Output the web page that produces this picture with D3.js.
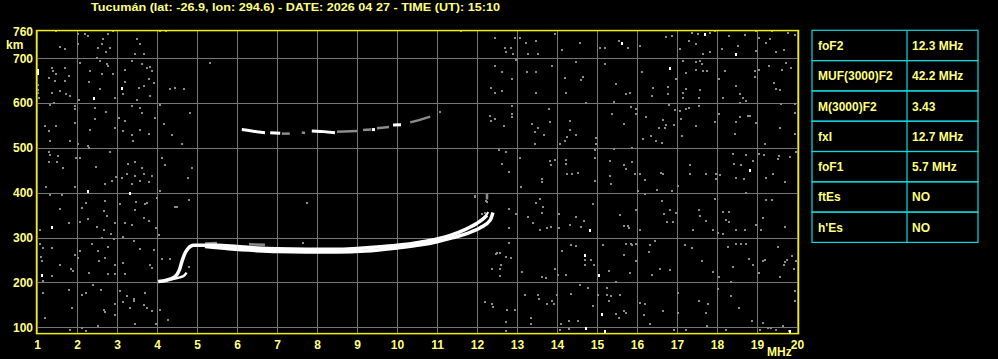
<!DOCTYPE html>
<html>
<head>
<meta charset="utf-8">
<script src="https://cdn.jsdelivr.net/npm/d3@7"></script>
<style>
  html, body { margin: 0; padding: 0; background: #000; }
  svg { display: block; }
  text { font-family: "Liberation Sans", Arial, sans-serif; font-weight: bold; fill: #ffff80; }
</style>
</head>
<body>
<div id="graphic"></div>
<script>
// ---- data ----
const titleText = "Tucumán (lat: -26.9, lon: 294.6) - DATE: 2026 04 27 - TIME (UT): 15:10";
const freqTicks = d3.range(1, 21);            // MHz
const heightTicks = [100, 200, 300, 400, 500, 600, 700];
const heightTop = 760;

const paramNames = ["foF2", "MUF(3000)F2", "M(3000)F2", "fxI", "foF1", "ftEs", "h'Es"];
const paramValues = ["12.3 MHz", "42.2 MHz", "3.43", "12.7 MHz", "5.7 MHz", "NO", "NO"];

// F-layer traces [MHz, km]
const oTrace = [[4.03,202],[4.24,205],[4.45,213],[4.56,228],[4.62,246],[4.70,265],[4.78,276],[4.91,283],[5.49,283],[6.0,280],[6.5,277],[7.0,275],[7.74,274],[8.5,274],[9.0,276],[9.5,279],[10.0,283],[10.58,290],[11.0,297],[11.33,305],[11.7,318],[12.0,332],[12.13,340],[12.25,350]];
const xTrace = [[5.2,280],[5.8,275],[6.5,271],[7.0,269],[7.74,268],[8.5,268],[9.2,270],[10.0,277],[10.6,284],[11.0,291],[11.4,300],[11.74,309],[12.08,322],[12.33,339],[12.4,356]];
const spurTrace = [[4.15,204],[4.45,209],[4.66,214],[4.74,222]];
const endStreak = [[12.2,345],[12.28,357]];
const dimTraces = [
  [[5.2,287],[5.5,288]], [[6.3,285],[6.7,284]], [[12.25,385],[12.25,398]]
];
// multi-hop echo (broken)
const hopBright = [
  [[6.12,541],[6.3,539],[6.5,536],[6.7,534]],
  [[6.83,534],[7.08,533]],
  [[7.87,538],[8.1,537],[8.45,534]],
  [[9.37,541],[9.45,541]],
  [[9.9,551],[10.1,552]]
];
const hopDim = [
  [[7.12,532],[7.32,532]],
  [[7.62,534],[7.7,534]],
  [[8.5,536],[9.0,538]],
  [[9.15,540],[9.35,541]],
  [[9.5,544],[9.8,547]],
  [[10.33,557],[10.55,562],[10.83,570]]
];

// scattered noise echoes [MHz, km]
const noiseGray = [
  [1.48,762],[2.03,754],[2.19,754],[2.28,750],[2.78,754],[2.89,762],[1.69,720],[1.58,725],[2.03,731],[2.53,722],[2.63,733],[2.64,742],[2.73,715],[2.83,722],[3.50,742],[3.58,731],[3.46,709],[3.67,709],[4.08,762],[4.23,762],
  [1.38,679],[1.39,672],[1.71,679],[1.48,666],[1.79,661],[1.29,657],[1.69,649],[1.44,649],[2.08,690],[2.33,672],[2.31,648],[2.57,694],[2.75,687],[2.78,683],[2.63,664],[2.89,664],[2.58,632],[2.50,701],[3.21,675],[3.19,648],[3.15,621],[3.38,694],[3.63,688],[3.75,679],[3.83,681],[3.88,672],[3.79,653],[3.92,646],[3.67,638],[3.54,633],[3.50,608],[3.83,616],[1.03,623],[1.06,612],[1.38,623],[1.58,627],[1.73,620],[1.83,616],[1.42,601],[4.33,631],[4.44,634],[4.67,631],[5.33,689],[2.04,608],[2.96,612],[1.03,630],[1.03,640],
  [1.33,596],[1.94,594],[1.94,586],[2.46,590],[2.73,581],[3.04,566],[3.19,560],[3.38,594],[3.58,590],[3.63,579],[3.94,566],[4.08,596],[4.17,553],[4.38,529],[4.63,509],[4.83,578],[1.19,549],[1.29,538],[1.48,549],[1.33,515],[1.83,515],[1.94,556],[2.33,541],[2.44,564],[2.94,545],[3.14,538],[3.38,530],[3.41,515],[3.58,541],[3.79,532],[2.03,509],[2.28,504],[1.0,509],
  [1.31,492],[1.33,484],[1.52,482],[1.50,469],[1.31,469],[1.64,456],[1.98,478],[2.08,478],[2.29,500],[2.48,457],[2.83,492],[2.98,435],[2.88,426],[2.69,419],[3.13,433],[3.28,465],[3.44,469],[3.25,441],[3.46,437],[3.63,456],[3.67,441],[3.88,437],[3.79,425],[3.58,427],[3.38,419],[4.13,478],[4.19,462],[4.78,432],[4.88,456],[1.23,413],[1.94,413],[4.08,404],
  [1.33,396],[1.58,363],[1.63,396],[2.23,378],[2.13,366],[2.69,381],[2.67,359],[2.75,348],[2.96,333],[3.08,374],[3.21,333],[3.48,380],[3.46,361],[3.71,375],[3.67,344],[3.79,338],[3.38,329],[4.00,389],[3.98,322],[4.04,305],[1.08,316],[1.79,333],[2.08,334],[2.28,342],[2.50,323],[2.67,318],[2.63,299],[2.86,307],[2.92,298],[3.15,301],[4.46,368],[4.79,383],[3.74,377],[4.49,369],
  [1.08,285],[1.14,277],[1.38,276],[1.11,256],[1.13,247],[1.38,214],[1.58,238],[1.86,231],[1.89,225],[1.94,262],[2.03,255],[2.08,270],[2.29,221],[2.38,285],[2.53,270],[2.54,247],[2.71,255],[2.78,279],[2.78,219],[2.94,219],[2.96,240],[3.14,244],[3.19,219],[3.42,293],[3.58,275],[3.82,238],[3.92,273],[3.88,232],[4.13,253],[4.33,253],[4.81,234],[1.14,204],
  [1.14,177],[1.19,121],[1.79,184],[1.88,143],[2.13,173],[2.23,177],[2.39,195],[2.61,184],[2.67,139],[2.69,134],[2.96,152],[3.08,180],[3.14,156],[3.25,169],[3.42,164],[3.42,159],[3.33,143],[3.46,107],[3.71,177],[3.67,150],[3.75,143],[3.88,137],[3.98,108],[4.08,139],[4.28,117],[1.83,95],[2.13,98],[2.23,91],[2.53,104],[2.96,128],
  [7.74,378],[7.65,287],[11.6,760],[11.08,580],[12.24,380],[12.49,266],
  [12.44,745],[12.69,724],[12.73,713],[12.86,722],[12.90,710],[12.94,746],[13.08,745],[13.23,735],[13.28,709],[13.48,739],[13.53,709],[13.94,754],[14.13,718],[14.58,735],[15.08,722],[15.19,722],[15.54,739],[15.78,722],[16.08,728],[16.73,748],[16.88,750],[17.08,720],[17.30,739],[17.47,731],[17.53,755],[17.83,757],[17.94,761],[18.13,720],[18.30,750],[18.53,728],[18.69,752],[18.97,761],[18.98,716],[19.04,745],[19.22,735],[19.33,742],[19.38,762],[19.48,713],[19.67,718],[19.78,757],[19.94,752],[17.38,757],[17.65,709],[17.82,713],[12.97,696],
  [12.44,683],[12.63,670],[12.88,653],[13.25,670],[13.48,670],[13.88,683],[14.19,655],[14.48,692],[14.61,651],[14.65,658],[15.19,687],[15.48,642],[15.83,623],[16.13,670],[16.38,616],[16.78,635],[16.78,620],[16.98,653],[17.15,694],[17.23,668],[17.48,692],[17.57,694],[17.63,687],[17.48,675],[17.65,672],[17.15,623],[17.23,631],[17.15,611],[17.57,629],[17.55,612],[17.75,672],[18.05,653],[18.15,612],[18.48,638],[18.58,620],[18.65,612],[18.94,672],[18.94,658],[19.05,675],[19.30,683],[19.42,646],[19.48,631],[19.58,629],[19.63,675],[19.73,690],[19.86,679],[12.36,634],[12.44,623],[12.63,627],[13.48,622],[14.23,622],[14.72,601],[15.42,603],[15.72,620],[16.40,634],[18.19,672],[18.57,601],[18.73,605],
  [12.32,571],[12.44,564],[12.36,560],[12.67,549],[12.88,594],[12.88,575],[12.88,568],[13.38,554],[13.44,536],[13.53,545],[13.82,559],[13.80,586],[13.67,530],[13.44,508],[14.08,508],[14.19,515],[14.33,560],[14.32,541],[14.48,530],[14.25,524],[14.98,523],[14.98,509],[15.38,576],[15.67,553],[15.86,591],[15.98,586],[15.97,575],[16.23,569],[16.36,527],[16.63,512],[16.55,545],[16.65,562],[16.69,545],[16.73,551],[16.80,596],[16.92,551],[16.94,584],[17.11,564],[17.08,582],[17.23,588],[17.30,590],[17.13,527],[17.47,549],[17.55,593],[17.94,558],[18.05,576],[18.44,532],[18.48,558],[18.58,568],[18.78,571],[18.83,571],[18.98,556],[19.19,509],[19.58,545],[19.61,597],[19.94,597],[19.94,532],[19.94,579],[16.48,515],[16.15,519],
  [12.55,495],[12.63,465],[12.73,492],[12.80,447],[13.08,478],[13.11,413],[13.63,430],[13.63,425],[13.82,472],[13.86,462],[13.94,474],[14.23,474],[14.23,465],[14.25,442],[14.38,441],[14.53,445],[14.94,495],[14.94,477],[14.94,427],[15.32,471],[15.32,437],[15.36,419],[15.42,497],[15.67,463],[15.73,452],[15.88,499],[15.88,469],[15.94,441],[16.03,404],[16.08,442],[16.19,429],[16.50,407],[16.61,445],[16.65,441],[16.88,405],[17.03,415],[17.33,463],[17.33,442],[17.72,441],[17.97,442],[17.98,430],[18.08,439],[18.40,486],[18.42,465],[18.48,432],[18.61,463],[18.72,484],[18.90,470],[19.05,487],[19.17,484],[19.23,433],[19.40,441],[19.53,475],[19.55,482],[19.69,424],[19.82,480],[19.97,492],[18.67,430],[11.94,393],
  [11.94,390],[12.23,381],[12.13,352],[12.19,355],[12.38,352],[12.80,363],[12.80,322],[12.97,352],[13.28,346],[13.40,333],[13.48,378],[13.58,387],[13.65,368],[13.63,355],[13.58,316],[13.75,322],[13.84,323],[14.05,353],[14.05,322],[14.32,328],[14.47,346],[14.61,323],[14.67,338],[14.90,374],[15.58,350],[15.67,326],[15.80,322],[15.78,327],[15.98,362],[16.08,316],[16.19,398],[16.63,381],[16.67,352],[16.75,335],[16.82,361],[16.90,335],[16.98,355],[17.40,316],[17.55,362],[17.57,348],[17.72,337],[17.90,316],[17.94,387],[18.03,311],[18.15,357],[18.15,307],[18.23,340],[18.30,357],[18.30,335],[18.48,316],[18.69,318],[18.73,400],[18.98,328],[19.11,316],[19.15,344],[19.23,385],[19.38,383],[19.69,323],
  [12.48,264],[12.57,266],[12.61,238],[12.58,229],[12.73,256],[12.80,288],[12.86,255],[12.38,231],[12.58,214],[13.13,223],[13.63,212],[13.73,210],[13.94,230],[14.03,216],[14.13,270],[14.23,217],[14.36,284],[14.48,281],[14.69,251],[14.69,240],[14.86,251],[14.92,238],[15.15,283],[15.30,225],[15.48,201],[15.67,262],[15.73,286],[15.86,286],[15.98,286],[15.88,283],[15.97,247],[15.83,221],[16.32,284],[16.44,293],[16.30,268],[16.38,216],[16.58,230],[16.83,228],[17.19,284],[17.38,277],[17.63,247],[17.90,223],[18.05,212],[18.28,279],[18.40,234],[18.48,286],[18.61,286],[18.73,286],[18.80,253],[18.90,240],[19.05,221],[19.15,247],[19.19,249],[19.53,279],[19.57,212],[19.67,240],[19.69,245],[19.75,249],[19.88,258],[19.92,229],[19.97,247],[18.36,201],
  [12.19,156],[12.38,152],[12.40,145],[12.72,112],[12.75,139],[12.72,92],[12.94,139],[13.19,173],[13.36,107],[13.53,173],[13.55,164],[13.75,151],[13.88,159],[13.92,151],[14.00,171],[14.11,107],[14.30,97],[14.36,174],[14.53,113],[14.58,194],[14.78,188],[14.90,147],[15.03,173],[15.25,188],[15.25,173],[15.30,158],[15.36,169],[15.48,130],[15.55,121],[15.58,173],[15.67,137],[15.73,132],[16.08,154],[16.17,128],[16.19,151],[16.32,107],[16.65,137],[16.92,95],[17.03,132],[17.03,176],[17.23,95],[17.55,158],[17.73,132],[17.78,151],[17.75,102],[18.03,186],[18.23,95],[18.36,170],[18.55,143],[18.88,113],[19.07,95],[19.15,110],[19.28,98],[19.36,98],[19.48,95],[19.65,102],[19.80,91],[19.94,180],[19.94,158],[14.07,95],[14.30,115],[13.36,120]
];
const noiseWhite = [
  [1.03,673],[1.03,668],[2.43,612],[3.13,634],[2.28,404],[3.33,400],[1.38,324],[1.13,217],
  [15.63,735],[17.69,754],[18.48,709],[16.83,679],[18.83,450],[14.83,316],[14.69,262],[15.04,217],[15.13,130],[15.19,91],[14.73,98],[19.83,91]
];

// ---- layout ----
const width = 998, height = 359;
const x = d3.scaleLinear().domain([1, 20]).range([37, 797]);
const y = d3.scaleLinear().domain([100, 700]).range([327.3, 58.3]);
const frameTop = y(763), frameBottom = y(87);

const svg = d3.select('#graphic').append('svg')
  .attr('width', width).attr('height', height);

svg.append('rect').attr('width', width).attr('height', height).attr('fill', '#000');

// title
svg.append('text')
  .attr('x', 91).attr('y', 11)
  .attr('textLength', 409).attr('lengthAdjust', 'spacingAndGlyphs')
  .style('font-size', '11px')
  .text(titleText);

// grid
svg.append('g').selectAll('line')
  .data(freqTicks)
  .join('line')
  .attr('x1', (d) => x(d) + 0.5).attr('x2', (d) => x(d) + 0.5)
  .attr('y1', frameTop).attr('y2', frameBottom)
  .attr('stroke', '#767676').attr('stroke-width', 1);

svg.append('g').selectAll('line')
  .data(heightTicks)
  .join('line')
  .attr('x1', x(1)).attr('x2', x(20))
  .attr('y1', (d) => Math.round(y(d)) + 0.5).attr('y2', (d) => Math.round(y(d)) + 0.5)
  .attr('stroke', '#767676').attr('stroke-width', 1);

// noise echoes
svg.append('g').selectAll('rect')
  .data(noiseGray)
  .join('rect')
  .attr('x', (d) => Math.round(x(d[0])) - 1)
  .attr('y', (d) => Math.round(y(d[1])) - 1)
  .attr('width', 2).attr('height', 2)
  .attr('fill', '#8c8c8c');

svg.append('g').selectAll('rect')
  .data(noiseWhite)
  .join('rect')
  .attr('x', (d) => Math.round(x(d[0])) - 1)
  .attr('y', (d) => Math.round(y(d[1])) - 1)
  .attr('width', 2).attr('height', 3)
  .attr('fill', '#fff');

// traces
const line = d3.line().x((d) => x(d[0])).y((d) => y(d[1]));
const smooth = d3.line().x((d) => x(d[0])).y((d) => y(d[1])).curve(d3.curveMonotoneX);

svg.append('g').selectAll('path')
  .data(dimTraces)
  .join('path')
  .attr('d', line)
  .attr('fill', 'none').attr('stroke', '#8c8c8c').attr('stroke-width', 2.5);

svg.append('g').selectAll('path')
  .data(hopDim)
  .join('path')
  .attr('d', line)
  .attr('fill', 'none').attr('stroke', '#8c8c8c').attr('stroke-width', 2.5);

svg.append('g').selectAll('path')
  .data(hopBright)
  .join('path')
  .attr('d', line)
  .attr('fill', 'none').attr('stroke', '#fff').attr('stroke-width', 3);

svg.append('path').datum(xTrace)
  .attr('d', smooth)
  .attr('fill', 'none').attr('stroke', '#fff').attr('stroke-width', 3.5);

svg.append('path').datum(oTrace)
  .attr('d', smooth)
  .attr('fill', 'none').attr('stroke', '#fff').attr('stroke-width', 3.5);

svg.append('path').datum(spurTrace)
  .attr('d', smooth)
  .attr('fill', 'none').attr('stroke', '#fff').attr('stroke-width', 2.5);

svg.append('path').datum(endStreak)
  .attr('d', line)
  .attr('fill', 'none').attr('stroke', '#fff').attr('stroke-width', 2);

// frame
svg.append('rect')
  .attr('x', 36.5).attr('y', frameTop + 0.5)
  .attr('width', 798 - 36).attr('height', frameBottom - frameTop)
  .attr('fill', 'none').attr('stroke', '#f0f000').attr('stroke-width', 1.5);

// axes
const xAxis = d3.axisBottom(x).tickValues(freqTicks).tickSize(0).tickPadding(7)
  .tickFormat(d3.format('d'));
const gx = svg.append('g')
  .attr('transform', 'translate(0,' + frameBottom + ')')
  .call(xAxis);
gx.select('.domain').remove();
gx.selectAll('text').attr('fill', '#ffff80').style('font-size', '12px')
  .style('font-family', '"Liberation Sans", Arial, sans-serif').style('font-weight', 'bold');

const yAxis = d3.axisLeft(y).tickValues(heightTicks.concat([heightTop])).tickSize(0).tickPadding(3);
const gy = svg.append('g')
  .attr('transform', 'translate(36,0)')
  .call(yAxis);
gy.select('.domain').remove();
gy.selectAll('text').attr('fill', '#ffff80').style('font-size', '12px')
  .style('font-family', '"Liberation Sans", Arial, sans-serif').style('font-weight', 'bold');

svg.append('text').attr('x', 6).attr('y', 49).style('font-size', '12px').text('km');
svg.append('text').attr('x', 767).attr('y', 356).style('font-size', '12px').text('MHz');

// parameter table
const tableX = 812, tableW = 166, splitX = 907, rowH = 30.3, tableY = 30.3;
const rows = paramNames.map((name, i) => ({ name: name, value: paramValues[i] }));
const table = svg.append('g');
table.selectAll('rect')
  .data(rows)
  .join('rect')
  .attr('x', tableX).attr('y', (d, i) => tableY + i * rowH)
  .attr('width', tableW).attr('height', rowH)
  .attr('fill', 'none').attr('stroke', '#10d8e0').attr('stroke-width', 1.2);
table.append('line')
  .attr('x1', splitX).attr('x2', splitX)
  .attr('y1', tableY).attr('y2', tableY + rows.length * rowH)
  .attr('stroke', '#10d8e0').attr('stroke-width', 1.2);
table.selectAll('text.name')
  .data(rows)
  .join('text')
  .attr('class', 'name')
  .attr('x', 818).attr('y', (d, i) => tableY + i * rowH + rowH / 2 + 4.5)
  .style('font-size', '12px')
  .text((d) => d.name);
table.selectAll('text.value')
  .data(rows)
  .join('text')
  .attr('class', 'value')
  .attr('x', 912).attr('y', (d, i) => tableY + i * rowH + rowH / 2 + 4.5)
  .style('font-size', '12px')
  .text((d) => d.value);
</script>
</body>
</html>
